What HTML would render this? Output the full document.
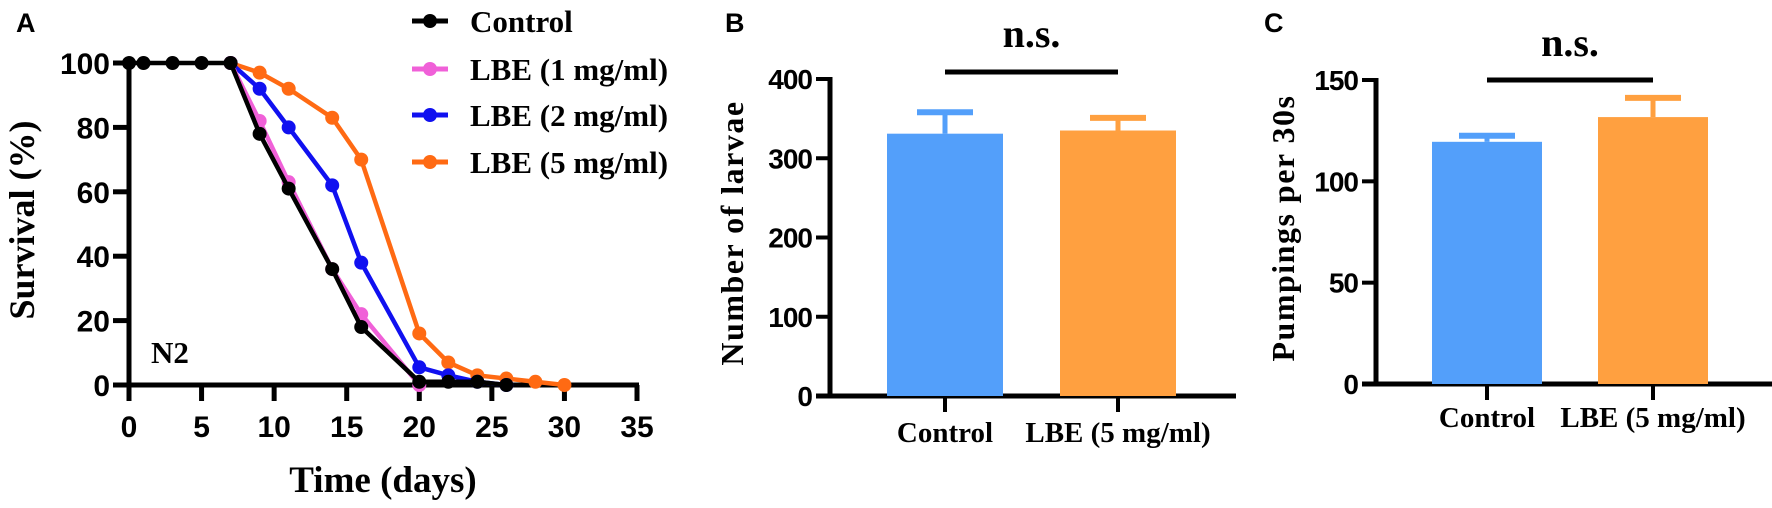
<!DOCTYPE html>
<html><head><meta charset="utf-8"><style>
body{margin:0;background:#fff;}
svg{display:block;}
text{font-family:"Liberation Serif",serif;font-weight:bold;fill:#000;}
.sans{font-family:"Liberation Sans",sans-serif;}
</style></head><body>
<svg id="s" width="1772" height="508" viewBox="0 0 1772 508" xmlns="http://www.w3.org/2000/svg">
<text class="sans" x="16" y="32" font-size="27">A</text>
<text class="sans" x="725" y="32" font-size="27">B</text>
<text class="sans" x="1264" y="32" font-size="27">C</text>
<g id="A"></g><g id="B"></g><g id="C"></g>
</svg>
<script>
const ctrlDays=[0,1,3,5,7,9,11,14,16,20,22,24,26];
const ctrlVals=[100,100,100,100,100,78,61,36,18,1,1,1,0];
const lbe1Days=[7,9,11,14,16,20];
const lbe1Vals=[100,82,63,36,22,0];
const lbe2Days=[7,9,11,14,16,20,22,24,26];
const lbe2Vals=[100,92,80,62,38,5.5,3,1,0];
const lbe5Days=[7,9,11,14,16,20,22,24,26,28,30];
const lbe5Vals=[100,97,92,83,70,16,7,3,2,1,0];
const xTicks=[0,5,10,15,20,25,30,35];
const yTicksA=[0,20,40,60,80,100];
const barCats=["Control","LBE (5 mg/ml)"];
const larvaeVals=[331,335];
const larvaeErr=[27,16];
const yTicksB=[0,100,200,300,400];
const pumpVals=[119.5,131.7];
const pumpErr=[3,9.5];
const yTicksC=[0,50,100,150];

const NS="http://www.w3.org/2000/svg";
function mk(parent,tag,attrs,txt){const e=document.createElementNS(NS,tag);for(const k in attrs)e.setAttribute(k,attrs[k]);if(txt!==undefined)e.textContent=txt;parent.appendChild(e);return e;}

// Panel A
const A=document.getElementById('A');
const ax=d=>129+d*(508/35), ay=v=>385-v*3.22;
let e=mk(A,'line',{x1:129,y1:ay(100)-2,x2:129,y2:387,stroke:'#000','stroke-width':5});


e=mk(A,'line',{x1:113,y1:385,x2:ax(35)+2,y2:385,stroke:'#000','stroke-width':5});


xTicks.forEach(t=>{
 mk(A,'line',{x1:ax(t),y1:385,x2:ax(t),y2:401,stroke:'#000','stroke-width':5});
 e=mk(A,'text',{class:'sans',x:ax(t),y:437,'font-size':30,'text-anchor':'middle'},t);
 
 
});
yTicksA.forEach(t=>{
 mk(A,'line',{x1:113,y1:ay(t),x2:129,y2:ay(t),stroke:'#000','stroke-width':5});
 e=mk(A,'text',{class:'sans',x:110,y:ay(t)+11,'font-size':30,'text-anchor':'end'},t);
 
 
});
e=mk(A,'text',{x:0,y:0,'font-size':36,'text-anchor':'middle',transform:'translate(34,220) rotate(-90)'},'Survival (%)');


e=mk(A,'text',{x:383,y:492,'font-size':37,'text-anchor':'middle'},'Time (days)');


e=mk(A,'text',{x:151,y:363,'font-size':31},'N2');


const series=[
 {n:'lbe-5',c:'#ff6a13',d:lbe5Days,v:lbe5Vals,lab:'LBE (5 mg/ml)',ly:162},
 {n:'lbe-2',c:'#1010f0',d:lbe2Days,v:lbe2Vals,lab:'LBE (2 mg/ml)',ly:115},
 {n:'lbe-1',c:'#f060d8',d:lbe1Days,v:lbe1Vals,lab:'LBE (1 mg/ml)',ly:69},
 {n:'control',c:'#000',d:ctrlDays,v:ctrlVals,lab:'Control',ly:21}];
series.forEach(s=>{
 e=mk(A,'polyline',{points:s.d.map((d,i)=>ax(d)+','+ay(s.v[i])).join(' '),fill:'none',stroke:s.c,'stroke-width':4.5});
 
 
 s.d.forEach((d,i)=>{
  e=mk(A,'circle',{cx:ax(d),cy:ay(s.v[i]),r:7,fill:s.c});
  
  
 });
 const g=mk(A,'g',{});
 
 
 mk(g,'line',{x1:412,y1:s.ly,x2:448,y2:s.ly,stroke:s.c,'stroke-width':5});
 mk(g,'circle',{cx:430,cy:s.ly,r:7,fill:s.c});
 mk(g,'text',{x:470,y:s.ly+11,'font-size':31},s.lab);
});

// bar panels
function barPanel(G,o){
 const y=v=>o.base-v*o.k;
 let e=mk(G,'line',{x1:o.axX,y1:y(o.ticks[o.ticks.length-1])-2,x2:o.axX,y2:o.base+2,stroke:'#000','stroke-width':5});
 
 
 e=mk(G,'line',{x1:o.axX-14,y1:o.base,x2:o.axEnd,y2:o.base,stroke:'#000','stroke-width':5});
 
 
 o.ticks.forEach(t=>{
  mk(G,'line',{x1:o.axX-14,y1:y(t),x2:o.axX,y2:y(t),stroke:'#000','stroke-width':4});
  e=mk(G,'text',{class:'sans',x:o.axX-18,y:y(t)+10,'font-size':28,'text-anchor':'end','letter-spacing':-1},t);
  
  
 });
 const colors=['#539ffa','#ffa040'];
 o.vals.forEach((v,i)=>{
  const cx=o.cx[i],w=o.w;
  e=mk(G,'rect',{x:cx-w/2,y:y(v),width:w,height:o.base-y(v),fill:colors[i]});
  
  
  mk(G,'line',{x1:cx,y1:y(v),x2:cx,y2:y(v+o.err[i]),stroke:colors[i],'stroke-width':5});
  e=mk(G,'line',{x1:cx-28,y1:y(v+o.err[i]),x2:cx+28,y2:y(v+o.err[i]),stroke:colors[i],'stroke-width':6});
  
  
  mk(G,'line',{x1:cx,y1:o.base,x2:cx,y2:o.base+16,stroke:'#000','stroke-width':4});
  e=mk(G,'text',{x:cx,y:o.labY,'font-size':29,'text-anchor':'middle'},o.cats[i]);
  
  
 });
 e=mk(G,'line',{x1:o.cx[0],y1:o.nsY,x2:o.cx[1],y2:o.nsY,stroke:'#000','stroke-width':5});
 
 
 e=mk(G,'text',{x:(o.cx[0]+o.cx[1])/2,y:o.nsTextY,'font-size':40,'text-anchor':'middle'},'n.s.');
 
 
 e=mk(G,'text',{x:0,y:0,'font-size':32,'text-anchor':'middle','letter-spacing':1.5,transform:`translate(${o.titleX},${o.titleY}) rotate(-90)`},o.title);
 
 
}
barPanel(document.getElementById('B'),{p:'b',axX:830,axEnd:1236,base:396,k:(396-79)/400,ticks:yTicksB,vals:larvaeVals,err:larvaeErr,cx:[945,1118],w:116,cats:barCats,labY:442,nsY:72,nsTextY:47,title:'Number of larvae',titleX:743,titleY:233});
barPanel(document.getElementById('C'),{p:'c',axX:1376,axEnd:1772,base:384,k:(384-80)/150,ticks:yTicksC,vals:pumpVals,err:pumpErr,cx:[1487,1653],w:110,cats:barCats,labY:427,nsY:80,nsTextY:56,title:'Pumpings per 30s',titleX:1294,titleY:228});
</script>
</body></html>
